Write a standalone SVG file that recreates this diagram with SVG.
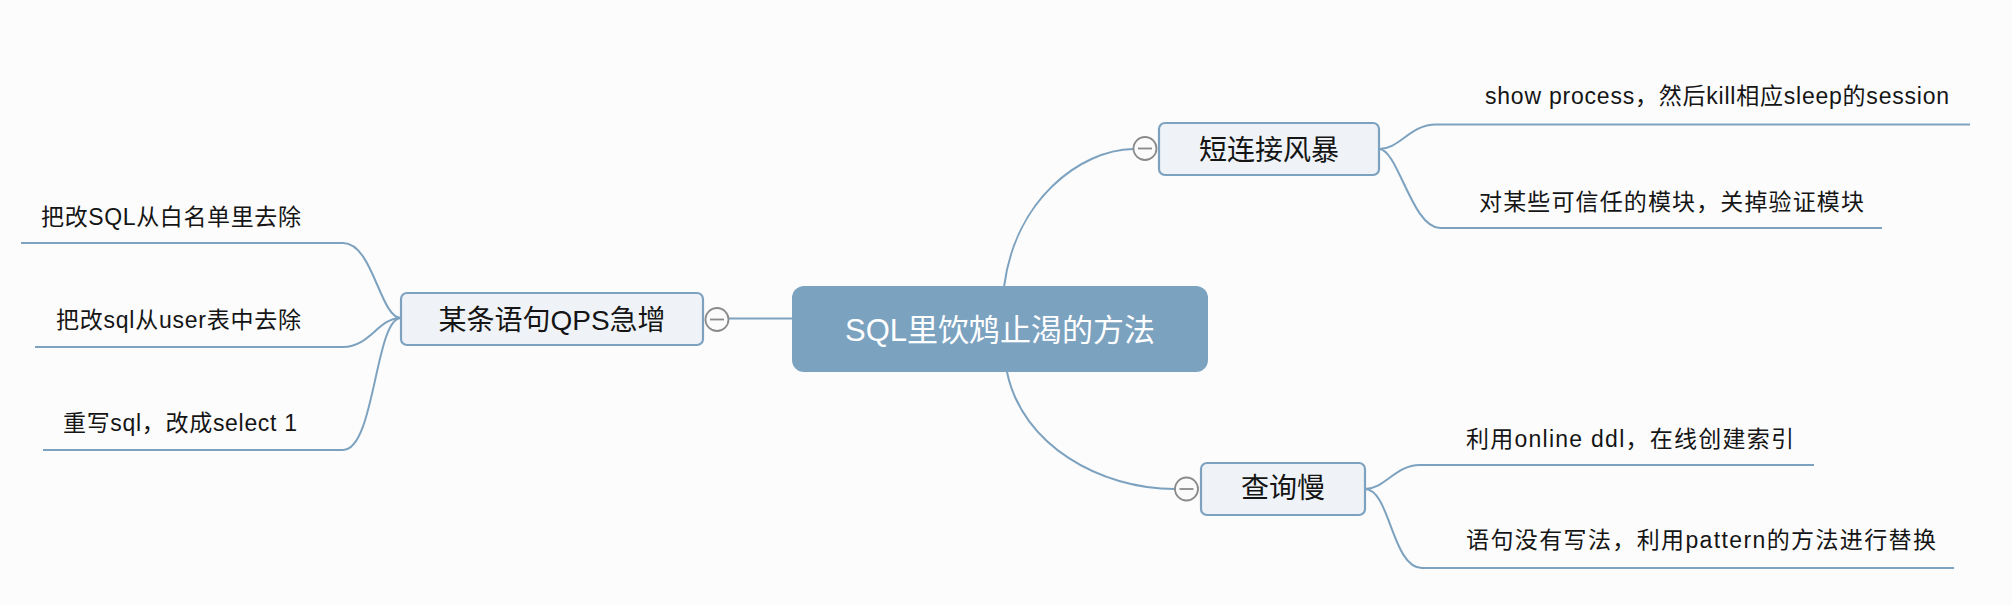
<svg xmlns="http://www.w3.org/2000/svg" width="2012" height="606" viewBox="0 0 2012 606">
<style>
.bg{fill:#fcfcfc}
.ln{fill:none;stroke:#7da2bf;stroke-width:2}
.main{fill:#7ba2bf}
.sub{fill:#eff3f7;stroke:#7da2bf;stroke-width:2.2}
.tog{fill:#fbfbfb;stroke:#8a8a8a;stroke-width:1.8}
.togm{stroke:#8a8a8a;stroke-width:1.8}
text{font-family:"Liberation Sans","Noto Sans CJK SC",sans-serif}
.tmain{font-size:31px;fill:#ffffff;text-anchor:middle}
.tsub{font-size:28px;fill:#151515;text-anchor:middle}
.tleaf{font-size:23px;fill:#151515}
</style>
<rect class="bg" x="0" y="0" width="2012" height="606"/>
<g id="connectors">
<path class="ln" d="M729,318.5 H792"/>
<path class="ln" d="M1004,287 C1015,200 1080,150 1133,149"/>
<path class="ln" d="M1007,372 C1022,445 1100,489 1175,489"/>
<path class="ln" d="M1379,149 C1400,149 1410,124.5 1436,124.5 H1970"/>
<path class="ln" d="M1379,149 C1398,149 1412,228 1440,228 H1882"/>
<path class="ln" d="M1365,489 C1385,489 1395,465 1420,465 H1814"/>
<path class="ln" d="M1365,489 C1390,489 1392,568 1422,568 H1954"/>
<path class="ln" d="M401,318 C380,318 373,243 343,243 H21"/>
<path class="ln" d="M401,318 C378,318 370,347 343,347 H35"/>
<path class="ln" d="M401,318 C375,318 375,450 343,450 H43"/>
</g>
<g id="root">
<rect class="main" x="792" y="286" width="416" height="86" rx="12"/>
<text class="tmain" x="1000" y="341">SQL里饮鸩止渴的方法</text>
</g>
<g id="n-short-conn">
<rect class="sub" x="1159" y="123" width="220" height="52" rx="6"/>
<text class="tsub" x="1269" y="160">短连接风暴</text>
<circle class="tog" cx="1145" cy="148.5" r="11.5"/>
<line class="togm" x1="1138" y1="148.5" x2="1152" y2="148.5"/>
</g>
<g id="n-slow-query">
<rect class="sub" x="1201" y="463" width="164" height="52" rx="6"/>
<text class="tsub" x="1283" y="498">查询慢</text>
<circle class="tog" cx="1186.5" cy="489" r="11.5"/>
<line class="togm" x1="1179.5" y1="489" x2="1193.5" y2="489"/>
</g>
<g id="n-qps">
<rect class="sub" x="401" y="293" width="302" height="52" rx="6"/>
<text class="tsub" x="552" y="330">某条语句QPS急增</text>
<circle class="tog" cx="717" cy="319.5" r="11.5"/>
<line class="togm" x1="710" y1="319.5" x2="724" y2="319.5"/>
</g>
<g id="leaf-show-process">
<text class="tleaf" x="1485" y="104" textLength="464" lengthAdjust="spacing">show process，然后kill相应sleep的session</text>
</g>
<g id="leaf-trusted">
<text class="tleaf" x="1479" y="210" textLength="385" lengthAdjust="spacing">对某些可信任的模块，关掉验证模块</text>
</g>
<g id="leaf-online-ddl">
<text class="tleaf" x="1466" y="447" textLength="328" lengthAdjust="spacing">利用online ddl，在线创建索引</text>
</g>
<g id="leaf-pattern">
<text class="tleaf" x="1466" y="548" textLength="470" lengthAdjust="spacing">语句没有写法，利用pattern的方法进行替换</text>
</g>
<g id="leaf-whitelist">
<text class="tleaf" x="41" y="224.5" textLength="260" lengthAdjust="spacing">把改SQL从白名单里去除</text>
</g>
<g id="leaf-user-table">
<text class="tleaf" x="56" y="328" textLength="245" lengthAdjust="spacing">把改sql从user表中去除</text>
</g>
<g id="leaf-rewrite">
<text class="tleaf" x="63" y="431" textLength="234" lengthAdjust="spacing">重写sql，改成select 1</text>
</g>
</svg>
